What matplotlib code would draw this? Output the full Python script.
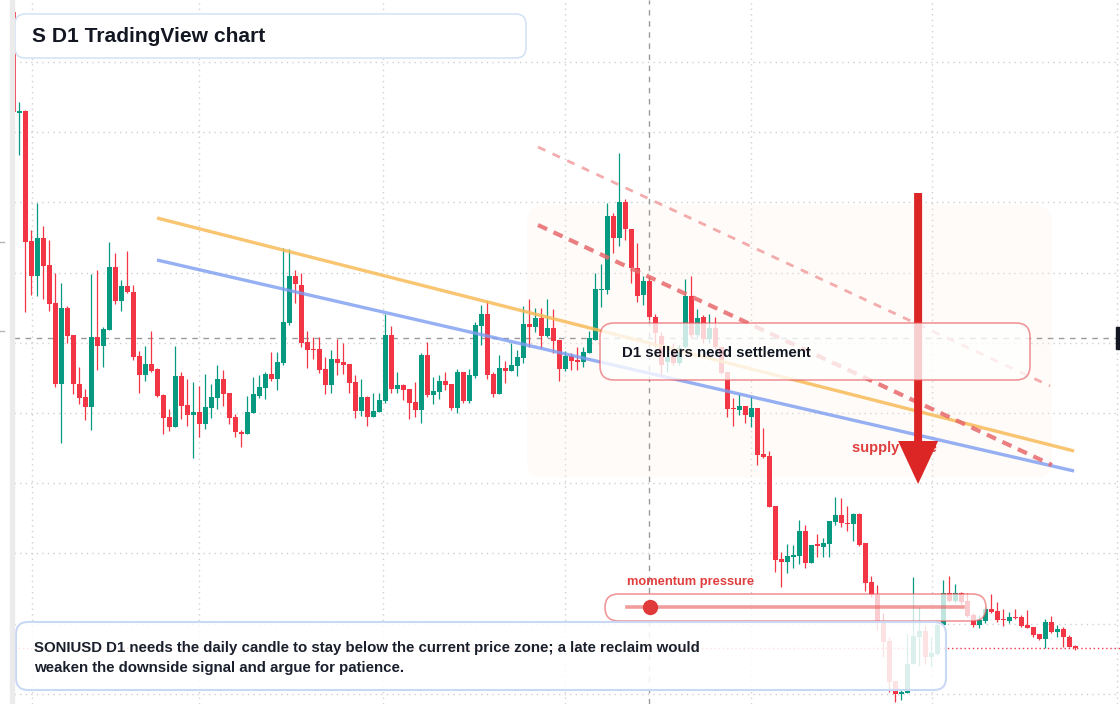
import matplotlib
matplotlib.use("Agg")
import matplotlib.pyplot as plt
from matplotlib.patches import FancyBboxPatch, FancyArrow, Rectangle
from matplotlib.lines import Line2D
from matplotlib.transforms import IdentityTransform
import numpy as np

plt.rcParams['font.family'] = ['Liberation Sans', 'DejaVu Sans']

W, H = 1120, 704
UP, DOWN = '#089981', '#f23645'
INK = '#131722'
PIX = IdentityTransform()   # image pixels, origin bottom-left

# daily candles, oldest first (first one is cut by the left edge)
opens = [6.92, 5.91, 5.93, 4.63, 4.28, 4.66, 4.39, 4.01, 3.20, 3.96,
         3.69, 3.20, 3.07, 2.97, 3.67, 3.58, 3.74, 4.37, 4.03, 4.18,
         4.12, 3.48, 3.29, 3.40, 3.35, 3.09, 2.87, 2.77, 3.28, 2.99,
         2.89, 2.92, 2.80, 2.96, 3.06, 3.25, 3.11, 2.87, 2.72, 2.70,
         2.91, 3.08, 3.16, 3.30, 3.25, 3.41, 3.81, 4.28, 4.19, 3.62,
         3.55, 3.55, 3.35, 3.19, 3.45, 3.42, 3.40, 3.22, 2.93, 3.07,
         2.87, 2.92, 3.03, 3.69, 3.15, 3.19, 3.15, 3.02, 2.94, 3.49,
         3.09, 3.12, 3.23, 3.20, 2.96, 3.32, 3.03, 3.28, 3.78, 3.90,
         3.30, 3.10, 3.36, 3.33, 3.38, 3.46, 3.80, 3.77, 3.86, 3.68,
         3.76, 3.64, 3.35, 3.48, 3.44, 3.42, 3.51, 3.64, 4.14, 4.14,
         4.88, 4.66, 5.02, 4.75, 4.36, 4.09, 4.23, 3.87, 3.68, 3.42,
         3.55, 3.41, 3.57, 4.08, 3.69, 3.87, 3.65, 3.76, 3.57, 3.32,
         2.96, 2.94, 2.98, 2.87, 2.96, 2.50, 2.48, 1.98, 1.45, 1.42,
         1.47, 1.48, 1.73, 1.41, 1.60, 1.57, 1.60, 1.82, 1.89, 1.81,
         1.80, 1.90, 1.61, 1.22, 1.09, 0.82, 0.63, 0.23, 0.10, 0.11,
         0.40, 0.67, 0.73, 0.47, 0.50, 0.79, 1.11, 1.03, 1.11, 1.03,
         0.89, 0.79, 0.83, 0.95, 0.93, 0.85, 0.83, 0.87, 0.87, 0.79,
         0.77, 0.70, 0.65, 0.82, 0.72, 0.75, 0.67, 0.58]
highs = [6.92, 6.02, 5.94, 4.74, 5.01, 4.78, 4.64, 4.31, 4.21, 3.98,
         3.69, 3.37, 3.15, 4.30, 4.34, 3.77, 4.62, 4.51, 4.24, 4.53,
         4.19, 3.53, 3.58, 3.73, 3.36, 3.10, 2.95, 3.58, 3.32, 3.25,
         3.22, 3.18, 3.30, 3.20, 3.39, 3.34, 3.11, 2.90, 2.74, 3.08,
         3.27, 3.29, 3.32, 3.52, 3.52, 4.56, 4.55, 4.34, 4.31, 3.73,
         3.67, 3.67, 3.47, 3.54, 3.65, 3.61, 3.40, 3.29, 3.25, 3.08,
         3.11, 3.11, 3.90, 3.78, 3.32, 3.20, 3.15, 3.22, 3.51, 3.62,
         3.27, 3.29, 3.32, 3.20, 3.35, 3.32, 3.35, 3.82, 3.99, 4.03,
         3.32, 3.49, 3.43, 3.61, 3.54, 3.98, 4.05, 3.96, 3.96, 4.05,
         3.95, 3.64, 3.53, 3.51, 3.57, 3.57, 3.73, 4.31, 4.40, 5.01,
         4.91, 5.51, 5.05, 4.75, 4.61, 4.28, 4.27, 3.90, 3.72, 3.59,
         3.61, 3.59, 4.25, 4.28, 3.95, 3.89, 3.90, 3.87, 3.57, 3.32,
         3.06, 3.10, 2.98, 3.08, 2.96, 2.76, 2.53, 1.98, 1.52, 1.60,
         1.59, 1.84, 1.79, 1.59, 1.70, 1.66, 1.83, 2.07, 2.06, 1.98,
         1.91, 1.91, 1.61, 1.28, 1.19, 0.91, 0.67, 0.23, 0.14, 0.70,
         1.27, 0.97, 0.79, 0.67, 0.82, 1.24, 1.28, 1.20, 1.12, 1.11,
         0.91, 0.89, 0.97, 1.10, 1.02, 0.95, 0.92, 0.95, 0.89, 0.94,
         0.77, 0.70, 0.85, 0.88, 0.79, 0.77, 0.69, 0.59]
lows = [5.92, 5.49, 3.92, 4.09, 4.08, 4.05, 3.93, 3.17, 2.61, 3.61,
        3.10, 3.00, 2.84, 2.74, 3.34, 3.37, 3.74, 4.00, 3.93, 4.11,
        3.44, 3.11, 3.23, 3.32, 3.07, 2.70, 2.73, 2.77, 2.85, 2.78,
        2.46, 2.67, 2.75, 2.86, 2.95, 2.98, 2.80, 2.67, 2.57, 2.70,
        2.91, 3.06, 3.05, 3.23, 3.14, 3.39, 3.79, 4.01, 3.57, 3.36,
        3.45, 3.31, 3.10, 3.11, 3.29, 3.30, 3.11, 2.86, 2.88, 2.78,
        2.87, 2.92, 3.01, 3.11, 3.11, 3.04, 2.85, 2.87, 2.81, 3.07,
        3.00, 3.05, 3.14, 2.94, 2.91, 3.01, 3.01, 3.26, 3.59, 3.25,
        3.07, 3.10, 3.21, 3.33, 3.28, 3.41, 3.57, 3.72, 3.56, 3.67,
        3.51, 3.23, 3.33, 3.34, 3.34, 3.37, 3.51, 3.64, 3.97, 4.10,
        4.51, 4.58, 4.64, 4.21, 4.02, 3.99, 3.84, 3.57, 3.29, 3.32,
        3.39, 3.39, 3.56, 3.66, 3.67, 3.61, 3.61, 3.54, 3.30, 2.87,
        2.78, 2.89, 2.81, 2.77, 2.39, 2.46, 1.97, 1.32, 1.17, 1.31,
        1.36, 1.40, 1.36, 1.41, 1.47, 1.47, 1.47, 1.79, 1.77, 1.73,
        1.63, 1.58, 1.13, 1.07, 0.74, 0.47, 0.12, 0.02, 0.04, 0.11,
        0.40, 0.38, 0.40, 0.37, 0.49, 0.78, 1.02, 1.02, 1.00, 0.87,
        0.77, 0.76, 0.81, 0.91, 0.82, 0.78, 0.81, 0.85, 0.77, 0.76,
        0.67, 0.64, 0.56, 0.71, 0.67, 0.57, 0.57, 0.54]
closes = [5.92, 5.93, 4.62, 4.28, 4.66, 4.38, 4.00, 3.20, 3.96, 3.68,
          3.20, 3.06, 2.97, 3.67, 3.58, 3.75, 4.37, 4.03, 4.18, 4.12,
          3.47, 3.29, 3.40, 3.33, 3.08, 2.86, 2.77, 3.28, 2.98, 2.89,
          2.92, 2.80, 2.97, 3.07, 3.25, 3.10, 2.86, 2.72, 2.70, 2.92,
          3.10, 3.17, 3.30, 3.25, 3.42, 3.82, 4.28, 4.20, 3.61, 3.54,
          3.54, 3.34, 3.19, 3.45, 3.41, 3.39, 3.21, 2.93, 3.07, 2.87,
          2.93, 3.04, 3.69, 3.15, 3.19, 3.14, 3.01, 2.94, 3.49, 3.09,
          3.13, 3.23, 3.19, 2.96, 3.32, 3.03, 3.29, 3.79, 3.90, 3.29,
          3.10, 3.36, 3.33, 3.39, 3.47, 3.80, 3.77, 3.86, 3.68, 3.76,
          3.63, 3.35, 3.48, 3.43, 3.42, 3.52, 3.66, 4.15, 4.15, 4.88,
          4.66, 5.02, 4.75, 4.36, 4.08, 4.23, 3.87, 3.71, 3.39, 3.47,
          3.41, 3.56, 4.08, 3.69, 3.86, 3.65, 3.76, 3.57, 3.31, 2.95,
          2.95, 2.98, 2.89, 2.96, 2.49, 2.47, 1.97, 1.44, 1.42, 1.48,
          1.49, 1.73, 1.41, 1.59, 1.58, 1.61, 1.83, 1.89, 1.81, 1.80,
          1.90, 1.59, 1.21, 1.09, 0.81, 0.62, 0.22, 0.10, 0.12, 0.40,
          0.68, 0.73, 0.47, 0.51, 0.79, 1.11, 1.03, 1.11, 1.02, 0.88,
          0.79, 0.84, 0.95, 0.92, 0.84, 0.84, 0.87, 0.86, 0.78, 0.76,
          0.69, 0.65, 0.82, 0.72, 0.75, 0.67, 0.57, 0.56]
bars = np.arange(-1, len(opens) - 1)

month_starts = [2.1, 29.95, 60.6, 90.95, 121.95, 152.1, 182.95]
price_grid = np.arange(0.102, 7.0, 0.702)

# drawing objects on the chart (bar index, price)
upper_trend = ([22.95, 175.8], [4.86, 2.53])
lower_trend = ([22.95, 175.8], [4.44, 2.33])
supply_line = ([86.45, 172.1], [4.79, 2.39])
channel_top = ([86.45, 171.8], [5.57, 3.18])
cursor_bar, cursor_price = 104.95, 3.66
arrow_bar, arrow_from, arrow_to = 149.8, 5.11, 2.20
supply_label = (138.8, 2.56)

fig = plt.figure(figsize=(W / 100, H / 100), dpi=100)
ax = fig.add_axes([13.6 / W, 0, 1 - 13.6 / W, 1])
for s in ax.spines.values():
    s.set_visible(False)
ax.set_xticks(month_starts)
ax.set_yticks(price_grid)
ax.tick_params(length=0, labelleft=False, labelbottom=False)
ax.grid(True, color='#d0d0d0', linestyle=(0, (1, 3)), linewidth=1)
ax.set_axisbelow(True)


def rbox(x0, y0, x1, y1, r, **kw):
    # rounded box given in image pixels (top-left origin)
    p = FancyBboxPatch((x0, H - y1), x1 - x0, y1 - y0,
                       boxstyle=f"round,pad=0,rounding_size={r}",
                       transform=PIX, **kw)
    ax.add_patch(p)


def ptext(x, y, s, **kw):
    ax.text(x, H - y, s, transform=PIX, va='center', ha='left', **kw)


# faint zone behind the sell setup
rbox(527, 205, 1052, 478, 18, facecolor='#fdefe0', alpha=0.22,
     edgecolor='none', zorder=1)

ax.axvline(cursor_bar, color='#9b9b9b', lw=1, ls=(0, (4, 4)), zorder=2)
ax.axhline(cursor_price, color='#9b9b9b', lw=1, ls=(0, (4, 4)), zorder=2)
ax.axhline(closes[-1], color=DOWN, lw=1, ls=(0, (1, 2)), zorder=2)

o = np.array(opens)
c = np.array(closes)
colors = np.where(c >= o, UP, DOWN)
ax.vlines(bars, lows, highs, colors=colors, linewidth=0.9, zorder=3)
ax.bar(bars, np.maximum(np.abs(c - o), 0.015), bottom=np.minimum(o, c),
       width=0.77, color=colors, linewidth=0, zorder=4)

ax.plot(*upper_trend, color='#f8bb58', alpha=0.85, lw=2.4,
        solid_capstyle='butt', zorder=5)
ax.plot(*lower_trend, color='#7c9cf2', alpha=0.8, lw=2.4,
        solid_capstyle='butt', zorder=5)
ax.plot(*supply_line, color='#e8686c', alpha=0.85, lw=3,
        ls=(0, (2.4, 1.7)), zorder=5)
ax.plot(*channel_top, color='#f2a2a4', alpha=0.9, lw=2,
        ls=(0, (2.9, 2.9)), zorder=5)

ax.text(*supply_label, 'supply zone', color='#e03e3e', fontsize=10.5,
        fontweight='bold', va='center', ha='left', zorder=6)
ax.add_patch(FancyArrow(arrow_bar, arrow_from, 0, arrow_to - arrow_from,
                        width=8 / 6, head_width=40 / 6, head_length=0.43,
                        length_includes_head=True, color='#dc2626', lw=0,
                        zorder=7))

# annotation boxes
rbox(600, 323, 1030, 380, 14, facecolor=(1, 1, 1, 0.78),
     edgecolor=(0.91, 0.33, 0.35, 0.6), lw=1.2, zorder=8)
ptext(622, 353, 'D1 sellers need settlement', fontsize=10.8,
      fontweight='bold', color=INK, zorder=9)

ptext(627, 582, 'momentum pressure', fontsize=9.3, fontweight='bold',
      color='#e03e3e', zorder=9)
rbox(605, 594, 986, 621, 13.5, facecolor=(1, 1, 1, 0.75),
     edgecolor=(0.91, 0.33, 0.35, 0.6), lw=1.2, zorder=8)
ax.add_line(Line2D([627, 963], [H - 607, H - 607], transform=PIX,
                   color=(0.9, 0.3, 0.3, 0.55), lw=2.6, zorder=9))
ax.add_line(Line2D([650], [H - 607], transform=PIX, marker='o', ms=10,
                   color='#e03a3a', lw=0, zorder=9))

rbox(16, 622, 946, 690, 12, facecolor=(1, 1, 1, 0.86),
     edgecolor='#c9d9f4', lw=1.5, zorder=8)
ptext(34, 648, 'SONIUSD D1 needs the daily candle to stay below the current '
      'price zone; a late reclaim would', fontsize=10.82, fontweight='bold',
      color='#1a1f2c', zorder=9)
ptext(34, 668, 'weaken the downside signal and argue for patience.',
      fontsize=10.82, fontweight='bold', color='#1a1f2c', zorder=9)

rbox(15, 14, 526, 58, 10, facecolor='white', edgecolor='#d5e3f7', lw=1.2,
     zorder=8)
ptext(32, 36, 'S D1 TradingView chart', fontsize=15.1, fontweight='bold',
      color=INK, zorder=9)

# clipped price tag at the right edge
ax.add_patch(Rectangle((1116, H - 349), 4, 22, transform=PIX, color=INK,
                       zorder=10))

ax.set_xlim((13.6 - 19.3) / 6, (W - 19.3) / 6)
ax.set_ylim(0, H / 100)

fig.add_artist(Rectangle((10, 0), 3.6, H, transform=PIX, color='#ebebeb'))
for ty in (242, 331):
    fig.add_artist(Line2D([0, 4], [H - ty, H - ty], transform=PIX,
                          color='#b5b5b5', lw=1))

fig.savefig('out.png', dpi=100)
